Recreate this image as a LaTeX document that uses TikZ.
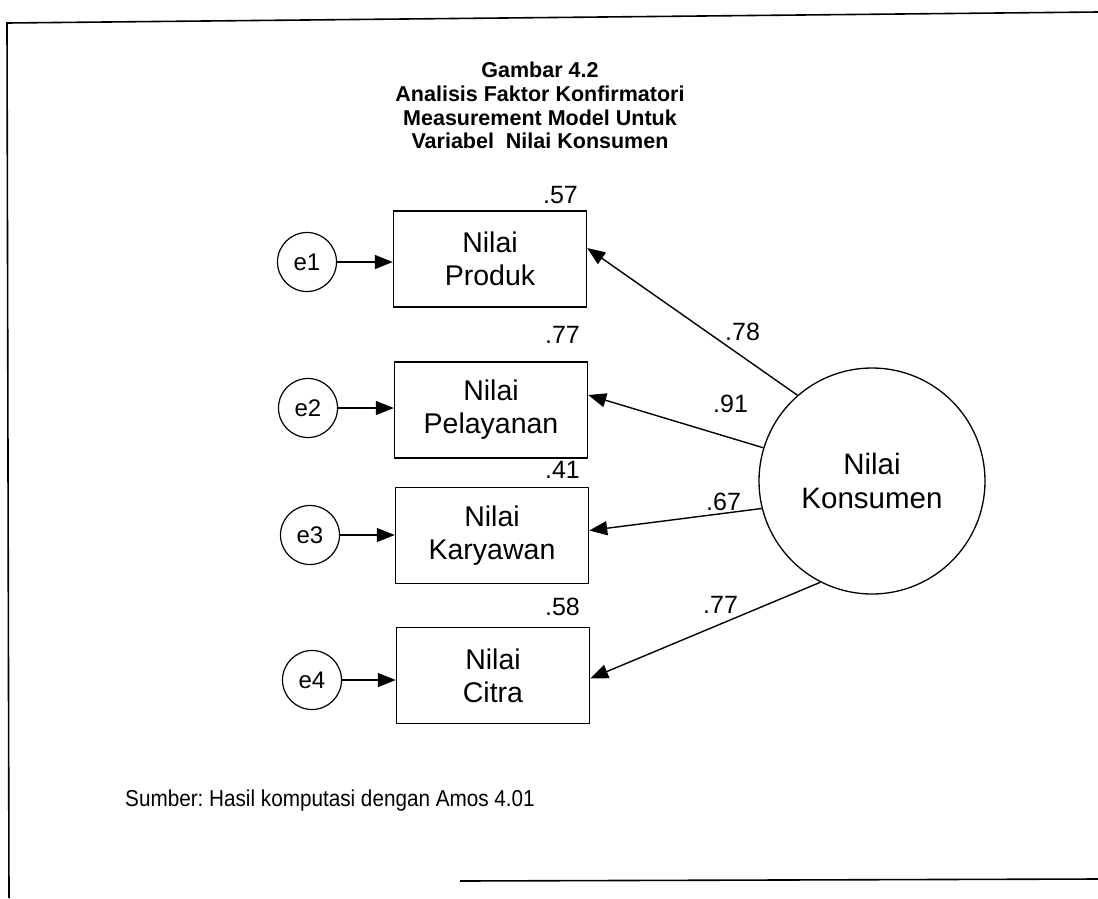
\documentclass[tikz,border=0pt]{standalone}
\usepackage{fontspec}
\setmainfont{Liberation Sans}
\newfontfamily\narrowsans[FakeStretch=0.9]{Liberation Sans}
\usetikzlibrary{arrows.meta,calc}
\frenchspacing
\begin{document}
\begin{tikzpicture}[x=1pt,y=-1pt,
  frameline/.style={line width=1.6pt},
  obsbox/.style={draw,line width=1.4pt,minimum width=193pt,minimum height=96pt,inner sep=0pt,align=center,font=\fontsize{28.5}{33}\selectfont},
  errc/.style={draw,circle,line width=1.2pt,minimum size=59pt,inner sep=0pt,font=\fontsize{24}{28}\selectfont},
  latc/.style={draw,circle,line width=1.3pt,minimum size=226pt,inner sep=0pt,align=center,font=\fontsize{29.5}{34}\selectfont},
  path/.style={line width=1.4pt,-{Triangle[length=18pt,width=14pt]}},
  titletext/.style={font=\fontsize{21.5}{24}\selectfont\bfseries,anchor=base},
  rlab/.style={font=\fontsize{25}{28}\selectfont,anchor=base east,inner sep=0pt},
  llab/.style={font=\fontsize{25}{28}\selectfont,anchor=base west,inner sep=0pt},
  srctext/.style={font=\narrowsans\fontsize{23}{27}\selectfont,anchor=base west,inner sep=0pt}
]
\useasboundingbox (0,0) rectangle (1098,898);
% frame
\coordinate (ftl) at (7,23);
\coordinate (ftr) at (1098,12);
\coordinate (fbl) at (9,898);
\coordinate (fbs) at (460,881);
\coordinate (fbr) at (1098,879);
\draw[frameline] (ftr) -- (ftl) -- (fbl);
\draw[frameline] (fbs) -- (fbr);
% title
\node[titletext] (t1) at (540,77) {Gambar 4.2};
\node[titletext] (t2) at (540,101) {Analisis Faktor Konfirmatori};
\node[titletext] (t3) at (540,125) {Measurement Model Untuk};
\node[titletext] (t4) at (540,148) {Variabel\ \ Nilai Konsumen};
% observed boxes
\node[obsbox] (b1) at (490,259) {Nilai\\Produk};
\node[obsbox] (b2) at (491,410) {Nilai\\Pelayanan};
\node[obsbox] (b3) at (492,535.5) {Nilai\\Karyawan};
\node[obsbox] (b4) at (493,675.5) {Nilai\\Citra};
% error circles
\node[errc] (e1) at (307,262) {e1};
\node[errc] (e2) at (308,408) {e2};
\node[errc] (e3) at (310,535) {e3};
\node[errc] (e4) at (312,680) {e4};
% latent
\node[latc] (K) at (872,481) {Nilai\\Konsumen};
% error paths
\draw[path] (e1) -- (e1 -| b1.west);
\draw[path] (e2) -- (e2 -| b2.west);
\draw[path] (e3) -- (e3 -| b3.west);
\draw[path] (e4) -- (e4 -| b4.west);
% loadings
\draw[path] (K.131.4) -- ([yshift=11pt]b1.east);
\draw[path] (K.163.2) -- ([yshift=15pt]b2.east);
\draw[path] (K.194.5) -- ([yshift=5pt]b3.east);
\draw[path] (K.243.9) -- ([yshift=-3pt]b4.east);
% squared multiple correlations
\node[rlab] (r1) at (578,203) {.57};
\node[rlab] (r2) at (580,343) {.77};
\node[rlab] (r3) at (580,478) {.41};
\node[rlab] (r4) at (580,615) {.58};
% loading labels
\node[llab] (l1) at (725,340) {.78};
\node[llab] (l2) at (713,412) {.91};
\node[llab] (l3) at (706,510) {.67};
\node[llab] (l4) at (703,613) {.77};
% source
\node[srctext] (src) at (125,806) {Sumber: Hasil komputasi dengan Amos 4.01};
\end{tikzpicture}
\end{document}
